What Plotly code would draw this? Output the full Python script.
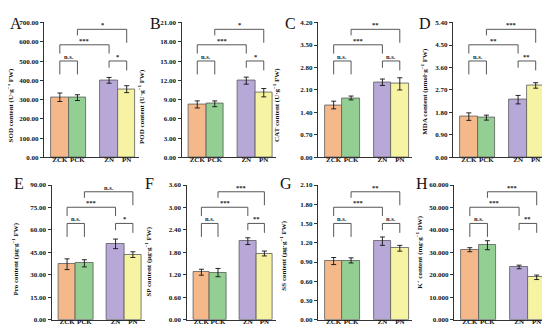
import plotly.graph_objects as go

# ---------------- data ----------------
categories = ["ZCK", "PCK", "ZN", "PN"]
bar_colors = ["#F5B88A", "#93CF93", "#B7A8D8", "#F6F3A2"]

panel_letters = ["A", "B", "C", "D", "E", "F", "G", "H"]

y_titles = [
    "SOD content (U·g<sup>−1</sup> FW)",
    "POD content (U·g<sup>−1</sup> FW)",
    "CAT content (U·g<sup>−1</sup> FW)",
    "MDA content (μmol·g<sup>−1</sup> FW)",
    "Pro content (μg·g<sup>−1</sup> FW)",
    "SP content (μg·g<sup>−1</sup> FW)",
    "SS content (μg·g<sup>−1</sup> FW)",
    "K<sup>+</sup> content (mg·g<sup>−1</sup> DW)",
]

y_max = [700, 21, 4.2, 5.4, 90, 3.6, 2.1, 60]
y_step = [100, 3, 0.7, 0.9, 15, 0.6, 0.3, 10]
y_fmt = [".2f", ".2f", ".2f", ".2f", ".2f", ".2f", ".2f", ".3f"]

sod = [312, 310, 400, 354]
sod_err = [22, 15, 15, 18]
pod = [8.24, 8.34, 11.95, 10.07]
pod_err = [0.55, 0.45, 0.55, 0.65]
cat = [1.63, 1.85, 2.34, 2.29]
cat_err = [0.12, 0.06, 0.10, 0.19]
mda = [1.63, 1.59, 2.31, 2.88]
mda_err = [0.15, 0.10, 0.17, 0.11]
pro = [37.1, 37.7, 50.7, 43.5]
pro_err = [3.6, 2.4, 3.2, 1.9]
sp = [1.27, 1.26, 2.10, 1.77]
sp_err = [0.08, 0.11, 0.09, 0.065]
ss = [0.915, 0.925, 1.225, 1.114]
ss_err = [0.055, 0.04, 0.065, 0.045]
k_ion = [31.2, 33.2, 23.5, 18.9]
k_ion_err = [0.9, 2.0, 0.8, 1.0]

values = [sod, pod, cat, mda, pro, sp, ss, k_ion]
errors = [sod_err, pod_err, cat_err, mda_err, pro_err, sp_err, ss_err, k_ion_err]

# significance labels: (ZCK-PCK, ZN-PN, ZCK-ZN, PCK-PN)
sig_labels = [
    ["n.s.", "*", "***", "*"],
    ["n.s.", "*", "***", "*"],
    ["n.s.", "n.s.", "***", "**"],
    ["n.s.", "**", "**", "***"],
    ["n.s.", "*", "***", "n.s."],
    ["n.s.", "**", "***", "***"],
    ["n.s.", "n.s.", "***", "**"],
    ["n.s.", "**", "***", "***"],
]

# ---------------- layout geometry (pixels) ----------------
W, H = 550, 327
x_dom_px = [(36, 131), (173.5, 268), (310, 404), (445, 540),
            (43.5, 137), (178.5, 268), (310, 404), (446, 541)]
y_dom_px = [(11.7, 149.5)] * 4 + [(177.7, 315.5)] * 4
letter_px = [(8, 13), (147, 13), (282, 13), (417, 13),
             (11, 176), (141, 176), (278, 176), (414, 176)]
# y-title centre positions
ytitle_px = [(11, 96.5), (143, 98), (278, 96), (425.5, 82),
             (17, 254), (150, 256), (285, 250), (421, 247)]
TITLE_XSHIFT = -9

PAIR_GAP = 0.8
positions = [i + (PAIR_GAP if i >= 2 else 0) for i in range(len(categories))]

# bracket structure: (left idx, right idx, level frac, left leg, right leg)
bracket_geom = [
    (0, 1, 0.715, 0.10, 0.10),
    (2, 3, 0.715, 0.05, 0.07),
    (0, 2, 0.835, 0.065, 0.065),
    (1, 3, 0.95, 0.045, 0.10),
]

SERIF = "Liberation Serif"
fig = go.Figure()
annotations = []

for p in range(8):
    xa = "x" if p == 0 else f"x{p+1}"
    ya = "y" if p == 0 else f"y{p+1}"
    fig.add_trace(go.Bar(
        x=positions, y=values[p], width=1.0,
        marker=dict(color=bar_colors, line=dict(color="#5a5a5a", width=0.8)),
        error_y=dict(type="data", array=errors[p], color="#111111",
                     thickness=0.9, width=2.5),
        xaxis=xa, yaxis=ya, showlegend=False,
    ))
    # brackets
    bx, by = [], []
    for (k, (i, j, lvl, ll, rl)) in enumerate(bracket_geom):
        top = lvl * y_max[p]
        bx += [positions[i], positions[i], positions[j], positions[j], None]
        by += [top - ll * y_max[p], top, top, top - rl * y_max[p], None]
        annotations.append(dict(
            x=(positions[i] + positions[j]) / 2, y=top, xref=xa, yref=ya,
            text=sig_labels[p][k], showarrow=False, yanchor="bottom",
            yshift=-1,
            font=dict(family=SERIF, size=6.5, color="#222222", weight="bold"),
        ))
    fig.add_trace(go.Scatter(
        x=bx, y=by, mode="lines", line=dict(color="#444444", width=0.9),
        xaxis=xa, yaxis=ya, showlegend=False, hoverinfo="skip",
    ))

    x0, x1 = x_dom_px[p]
    yt, yb = y_dom_px[p]
    ax_key = "xaxis" if p == 0 else f"xaxis{p+1}"
    ay_key = "yaxis" if p == 0 else f"yaxis{p+1}"
    fig.layout[ax_key] = dict(
        domain=[x0 / W, x1 / W], anchor=ya,
        range=[-0.9, positions[-1] + 0.7],
        tickvals=positions, ticktext=categories, tickangle=0,
        showline=True, linecolor="#333333", linewidth=1,
        showgrid=False, zeroline=False, ticks="",
        ticklabelstandoff=-5,
        tickfont=dict(family=SERIF, size=7, color="#111111", weight="bold"),
    )
    fig.layout[ay_key] = dict(
        domain=[1 - yb / H, 1 - yt / H], anchor=xa,
        range=[0, y_max[p] * 1.001],
        tick0=0, dtick=y_step[p], tickformat=y_fmt[p],
        showline=True, linecolor="#333333", linewidth=1,
        showgrid=False, zeroline=False,
        ticks="outside", ticklen=3, tickwidth=1, tickcolor="#333333",
        tickfont=dict(family=SERIF, size=7, color="#111111", weight="bold"),
    )
    tx, ty = ytitle_px[p]
    annotations.append(dict(
        x=tx / W, y=1 - ty / H, xref="paper", yref="paper",
        text=y_titles[p], showarrow=False, textangle=-90,
        xanchor="center", yanchor="middle", xshift=TITLE_XSHIFT,
        font=dict(family=SERIF, size=7, color="#111111", weight="bold"),
    ))
    lx, ly = letter_px[p]
    annotations.append(dict(
        x=lx / W, y=1 - ly / H, xref="paper", yref="paper",
        text=panel_letters[p], showarrow=False,
        xanchor="center", yanchor="middle",
        font=dict(family=SERIF, size=16, color="#111111"),
    ))

fig.update_layout(
    width=W, height=H,
    margin=dict(l=0, r=0, t=0, b=0),
    paper_bgcolor="white", plot_bgcolor="white",
    annotations=annotations,
    bargap=0,
)

fig.write_html("out.html")
